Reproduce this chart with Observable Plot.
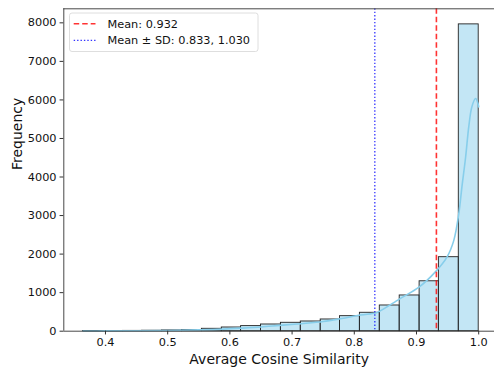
<!DOCTYPE html>
<html>
<head>
<meta charset="utf-8">
<script src="https://cdn.jsdelivr.net/npm/d3@7"></script>
<script src="https://cdn.jsdelivr.net/npm/@observablehq/plot@0.6"></script>
<style>
  html, body { margin: 0; padding: 0; background: #fff; overflow: hidden; }
  #chart svg { display: block; }
</style>
</head>
<body>
<div id="chart"></div>
<script>
// ---- data ----
const binEdges = [0.364, 0.396, 0.428, 0.459, 0.491, 0.523, 0.555, 0.587, 0.618, 0.650, 0.682,
                  0.714, 0.746, 0.777, 0.809, 0.841, 0.873, 0.905, 0.936, 0.968, 1.000];
const counts = [4, 5, 8, 12, 20, 32, 62, 96, 132, 174, 218, 252, 304, 390, 478, 667, 927, 1295, 1920, 7960];

const kdeX = [0.364, 0.40, 0.45, 0.50, 0.55, 0.59, 0.62, 0.65, 0.68, 0.715, 0.75, 0.78, 0.81, 0.834,
              0.841, 0.873, 0.904, 0.930, 0.949, 0.960, 0.968, 0.973, 0.979, 0.984, 0.989, 0.995, 0.999, 1.0];
const kdeY = [5, 8, 12, 20, 35, 55, 80, 110, 150, 195, 250, 330, 420, 470,
              520, 840, 1143, 1533, 1922, 2356, 3050, 3740, 4520, 5300, 5820, 6036, 5900, 5820];

const meanValue = 0.932;
const sdBounds = [0.833, 1.030];

const xTicks = [0.4, 0.5, 0.6, 0.7, 0.8, 0.9, 1.0];
const yTicks = [0, 1000, 2000, 3000, 4000, 5000, 6000, 7000, 8000];

const xLabel = "Average Cosine Similarity";
const yLabel = "Frequency";
const legendLabels = ["Mean: 0.932", "Mean \u00b1 SD: 0.833, 1.030"];

// ---- tables built from the arrays ----
const bins = counts.map((c, i) => ({x1: binEdges[i], x2: binEdges[i + 1], count: c}));
const kde = kdeX.map((x, i) => ({x, y: kdeY[i]}));

const xDomain = [0.333, 1.0254];
const yDomain = [0, 8364];
const font = "DejaVu Sans, sans-serif";

const chart = Plot.plot({
  width: 494,
  height: 369,
  marginLeft: 63.3,
  marginRight: 0,
  marginTop: 8.3,
  marginBottom: 38.3,
  style: {fontFamily: font, fontSize: "11.3px", color: "#111", background: "#fff"},
  x: {domain: xDomain},
  y: {domain: yDomain},
  marks: [
    Plot.rectY(bins, {x1: "x1", x2: "x2", y: "count", fill: "#87ceeb", fillOpacity: 0.5,
                      stroke: "#222", strokeWidth: 0.9}),
    Plot.line(kde, {x: "x", y: "y", stroke: "#87ceeb", strokeWidth: 1.6, curve: "catmull-rom"}),
    Plot.ruleX([meanValue], {stroke: "#ff0000", strokeOpacity: 0.8, strokeWidth: 1.6, strokeDasharray: "5.5,3"}),
    Plot.ruleX(sdBounds, {stroke: "#0000ff", strokeOpacity: 0.8, strokeWidth: 1.3, strokeDasharray: "1.4,2", clip: true}),
    Plot.axisX(xTicks, {tickSize: 3.75, tickPadding: 3.3, tickFormat: d3.format(".1f"), label: null, stroke: "#333"}),
    Plot.axisY(yTicks, {tickSize: 3.75, tickPadding: 3.5, tickFormat: d => String(d), label: null, stroke: "#333"}),
    Plot.ruleX([xDomain[0]], {stroke: "#333", strokeWidth: 0.9}),
    Plot.ruleY([yDomain[0]], {stroke: "#333", strokeWidth: 0.9}),
    Plot.ruleY([yDomain[1]], {stroke: "#333", strokeWidth: 0.9}),
    Plot.text([xLabel], {frameAnchor: "bottom", dy: 28.5, lineAnchor: "middle", fontSize: 14, fill: "#111"}),
    Plot.text([yLabel], {frameAnchor: "left", dx: -46, rotate: -90, lineAnchor: "middle", fontSize: 14, fill: "#111"})
  ]
});

// legend (layout only)
const svg = d3.select(chart);
const lg = svg.append("g").attr("font-family", font).attr("font-size", "11.3px").attr("text-anchor", "start");
lg.append("rect").attr("x", 69.5).attr("y", 13).attr("width", 188.5).attr("height", 38.5)
  .attr("rx", 2.5).attr("fill", "#fff").attr("fill-opacity", 0.8).attr("stroke", "#d6d6d6").attr("stroke-width", 0.8);
const rows = [
  {label: legendLabels[0], color: "#ff0000", dash: "5.5,3", width: 1.6, y: 23.8},
  {label: legendLabels[1], color: "#0000ff", dash: "1.4,2", width: 1.3, y: 40.4}
];
rows.forEach(r => {
  lg.append("line").attr("x1", 73.7).attr("x2", 95.5).attr("y1", r.y).attr("y2", r.y)
    .attr("stroke", r.color).attr("stroke-opacity", 0.8).attr("stroke-width", r.width).attr("stroke-dasharray", r.dash);
  lg.append("text").attr("x", 107.5).attr("y", r.y).attr("dy", "0.36em").attr("text-anchor", "start")
    .attr("fill", "#111").text(r.label);
});

document.getElementById("chart").appendChild(chart);
</script>
</body>
</html>
